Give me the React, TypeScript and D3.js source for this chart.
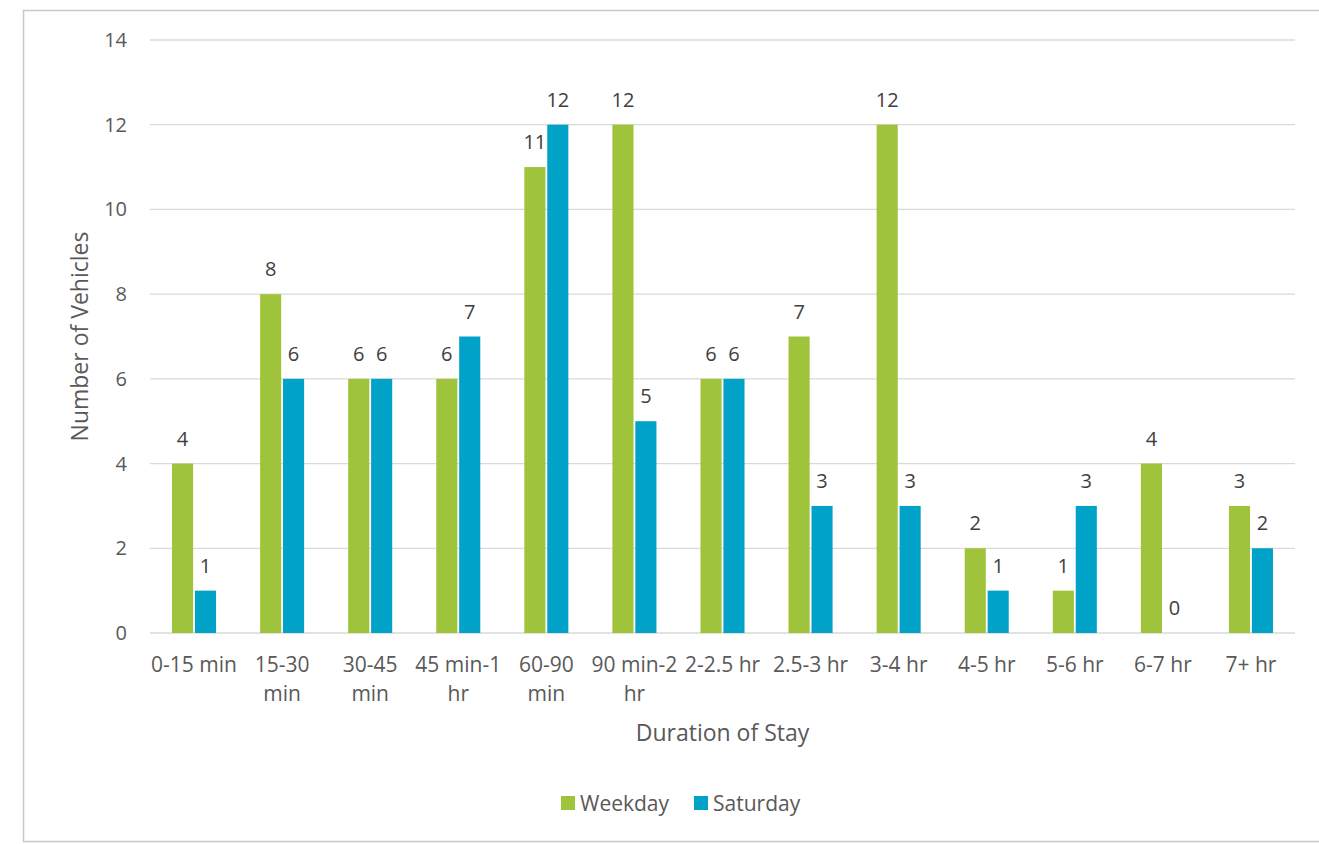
import React from "react";
import * as d3 from "d3";

const categories = [
  ["0-15 min"],
  ["15-30", "min"],
  ["30-45", "min"],
  ["45 min-1", "hr"],
  ["60-90", "min"],
  ["90 min-2", "hr"],
  ["2-2.5 hr"],
  ["2.5-3 hr"],
  ["3-4 hr"],
  ["4-5 hr"],
  ["5-6 hr"],
  ["6-7 hr"],
  ["7+ hr"],
];
const weekday = [4, 8, 6, 6, 11, 12, 6, 7, 12, 2, 1, 4, 3];
const saturday = [1, 6, 6, 7, 12, 5, 6, 3, 3, 1, 3, 0, 2];
const yTicks = [0, 2, 4, 6, 8, 10, 12, 14];
const seriesNames = ["Weekday", "Saturday"];
const colors = ["#9FC43B", "#00A2C8"];

const W = 1319;
const H = 844;
const left = 150;
const right = 1295;
const top = 40;
const bottom = 633;

export default function App() {
  const keys = categories.map((c) => c.join(" "));
  const x = d3.scaleBand<string>().domain(keys).range([left, right]).paddingInner(0).paddingOuter(0);
  const inner = d3
    .scaleBand<string>()
    .domain(seriesNames)
    .range([x.bandwidth() * 0.25, x.bandwidth() * 0.75])
    .paddingInner(0.08);
  const y = d3.scaleLinear().domain([0, 14]).range([bottom, top]);
  const series = [weekday, saturday];
  const font = "'Open Sans', 'Noto Sans', sans-serif";
  const textColor = "#595959";

  return (
    <svg
      width={W}
      height={H}
      style={{ position: "absolute", left: 0, top: 0, background: "#fff" }}
      fontFamily={font}
    >
      <rect x={23.5} y={10.5} width={W + 10} height={831} fill="#fff" stroke="#c8c8c8" strokeWidth={1.5} />
      {yTicks.map((t) => (
        <g key={t}>
          <line x1={left} x2={right} y1={y(t)} y2={y(t)} stroke="#d9d9d9" strokeWidth={1.3} />
          <text x={127} y={y(t)} dy="0.35em" textAnchor="end" fontSize={20} fill={textColor}>
            {t}
          </text>
        </g>
      ))}
      {series.map((vals, si) =>
        vals.map((v, i) => {
          const bx = (x(keys[i]) as number) + (inner(seriesNames[si]) as number);
          const bw = inner.bandwidth();
          return (
            <g key={`${si}-${i}`}>
              {v > 0 && (
                <rect x={bx} y={y(v)} width={bw} height={y(0) - y(v)} fill={colors[si]} />
              )}
              <text
                x={bx + bw / 2}
                y={y(v) - 18}
                textAnchor="middle"
                fontSize={20}
                fill="#404040"
              >
                {v}
              </text>
            </g>
          );
        })
      )}
      {categories.map((lines, i) => (
        <text
          key={keys[i]}
          x={(x(keys[i]) as number) + x.bandwidth() / 2}
          y={672}
          textAnchor="middle"
          fontSize={21}
          fill={textColor}
        >
          {lines.map((l, j) => (
            <tspan key={j} x={(x(keys[i]) as number) + x.bandwidth() / 2} dy={j === 0 ? 0 : 29}>
              {l}
            </tspan>
          ))}
        </text>
      ))}
      <text
        transform={`translate(88, ${(top + bottom) / 2}) rotate(-90)`}
        textAnchor="middle"
        fontSize={23}
        fill={textColor}
      >
        Number of Vehicles
      </text>
      <text x={(left + right) / 2} y={741} textAnchor="middle" fontSize={23} fill={textColor}>
        Duration of Stay
      </text>
      {seriesNames.map((n, i) => {
        const lx = i === 0 ? 561 : 694;
        return (
          <g key={n}>
            <rect x={lx} y={796} width={14} height={14} fill={colors[i]} />
            <text x={lx + 19} y={811} fontSize={21} fill={textColor}>
              {n}
            </text>
          </g>
        );
      })}
    </svg>
  );
}
